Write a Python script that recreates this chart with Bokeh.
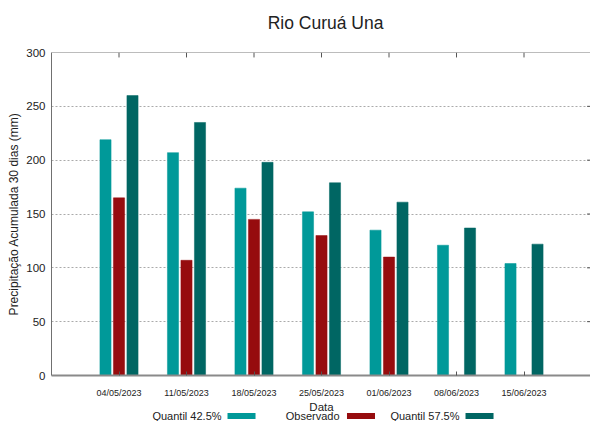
from bokeh.plotting import figure
from bokeh.models import ColumnDataSource, FixedTicker, Range1d, Span
from bokeh.layouts import column
from bokeh.embed import file_html
from bokeh.resources import INLINE
from bokeh.core.properties import value
from bokeh.transform import dodge

# ---- data ----
dates = ["04/05/2023", "11/05/2023", "18/05/2023", "25/05/2023",
         "01/06/2023", "08/06/2023", "15/06/2023"]
q425 = [219, 207, 174, 152, 135, 121, 104]
obs = [165, 107, 145, 130, 110, float("nan"), float("nan")]
q575 = [260, 235, 198, 179, 161, 137, 122]
series_names = ["Quantil 42.5%", "Observado", "Quantil 57.5%"]
colors = ["#009999", "#960c0e", "#006663"]
y_ticks = [0, 50, 100, 150, 200, 250, 300]
title_text = "Rio Curuá Una"
ylabel = "Precipitação Acumulada 30 dias (mm)"
xlabel = "Data"

FONT = "Liberation Sans"
TXT = "#222222"

idx = list(range(len(dates)))
src = ColumnDataSource(dict(x=idx, q425=q425, obs=obs, q575=q575))

XMAX = 6.985
x_range = Range1d(-1, XMAX)

# ---- title strip ----
tt = figure(width=590, height=34, x_range=x_range, y_range=Range1d(0, 34),
            output_backend="svg", toolbar_location=None, min_border=0,
            min_border_left=51, min_border_right=0)
tt.axis.visible = False
tt.grid.visible = False
tt.outline_line_color = None
tt.text(x=[3.06], y=[12], text=[title_text], text_align="center", text_baseline="middle",
        text_font=value(FONT), text_font_size="17.5px", text_color=TXT)

# ---- main chart ----
p = figure(width=590, height=366, x_range=x_range, y_range=Range1d(0, 300),
           output_backend="svg", toolbar_location=None,
           min_border_left=51, min_border_right=0, min_border_top=18, min_border_bottom=24)
p.outline_line_color = None

bw = 0.165
for key, off, col in zip(["q425", "obs", "q575"], [-0.2, 0.0, 0.2], colors):
    p.vbar(x=dodge("x", off, range=p.x_range), top=key, width=bw, source=src,
           fill_color=col, line_color=col, line_width=0.5)

# x axis
p.xaxis.ticker = FixedTicker(ticks=idx)
p.xaxis.major_label_overrides = {i: d for i, d in zip(idx, dates)}
p.xaxis.major_label_text_font = FONT
p.xaxis.major_label_text_font_size = "9px"
p.xaxis.major_label_text_color = TXT
p.xaxis.major_label_standoff = 12
p.xaxis.major_tick_in = 4
p.xaxis.major_tick_out = 0
p.xaxis.minor_tick_line_color = None
p.xaxis.axis_line_color = "#8a8a8a"
p.xaxis.axis_line_width = 2
p.xaxis.major_tick_line_color = "#555555"

# y axis
p.yaxis.ticker = FixedTicker(ticks=y_ticks)
p.yaxis.major_label_text_font = FONT
p.yaxis.major_label_text_font_size = "11.5px"
p.yaxis.major_label_text_color = TXT
p.yaxis.major_label_standoff = 6
p.yaxis.major_tick_in = 0
p.yaxis.major_tick_out = 0
p.yaxis.minor_tick_line_color = None
p.yaxis.axis_line_color = "#707070"
p.yaxis.axis_label = ylabel
p.yaxis.axis_label_text_font = FONT
p.yaxis.axis_label_text_font_size = "12px"
p.yaxis.axis_label_text_font_style = "normal"
p.yaxis.axis_label_text_color = TXT
p.yaxis.axis_label_standoff = 2

# top border with inward ticks, right inward ticks
p.add_layout(Span(location=y_ticks[-1], dimension="width", line_color="#7a7a7a", line_width=1))
p.segment(x0=idx, x1=idx, y0=[y_ticks[-1]] * len(idx), y1=[y_ticks[-1] - 4.6] * len(idx),
          line_color="#555555", line_width=1)
p.segment(x0=[XMAX] * len(y_ticks[1:-1]), x1=[XMAX - 0.05] * len(y_ticks[1:-1]),
          y0=y_ticks[1:-1], y1=y_ticks[1:-1], line_color="#555555", line_width=1)

p.xgrid.grid_line_color = None
p.ygrid.ticker = FixedTicker(ticks=y_ticks[1:-1])
p.ygrid.grid_line_color = "#aaaaaa"
p.ygrid.grid_line_dash = "2 2"
p.ygrid.grid_line_width = 1

# ---- axis title + legend strip (shares the x scale of the chart) ----
lg = figure(width=590, height=21, x_range=x_range, y_range=Range1d(0, 21),
            output_backend="svg", toolbar_location=None, min_border=0,
            min_border_left=51, min_border_right=0)
lg.axis.visible = False
lg.grid.visible = False
lg.outline_line_color = None
lg.text(x=[3.0], y=[21], text=[xlabel], text_align="center", text_baseline="top",
        text_font=value(FONT), text_font_size="11.5px", text_color=TXT)
text_end = [1.519, 3.267, 5.044]
sw_center = [1.815, 3.585, 5.341]
lg.text(x=text_end, y=[5.5] * 3, text=series_names, text_align="right",
        text_baseline="middle", text_font=value(FONT), text_font_size="11px",
        text_color=TXT)
lg.rect(x=sw_center, y=[5.5] * 3, width=0.415, height=6, fill_color=colors,
        line_color=None)

layout = column(tt, p, lg, spacing=0)
open("out.html", "w").write(file_html(layout, INLINE))
